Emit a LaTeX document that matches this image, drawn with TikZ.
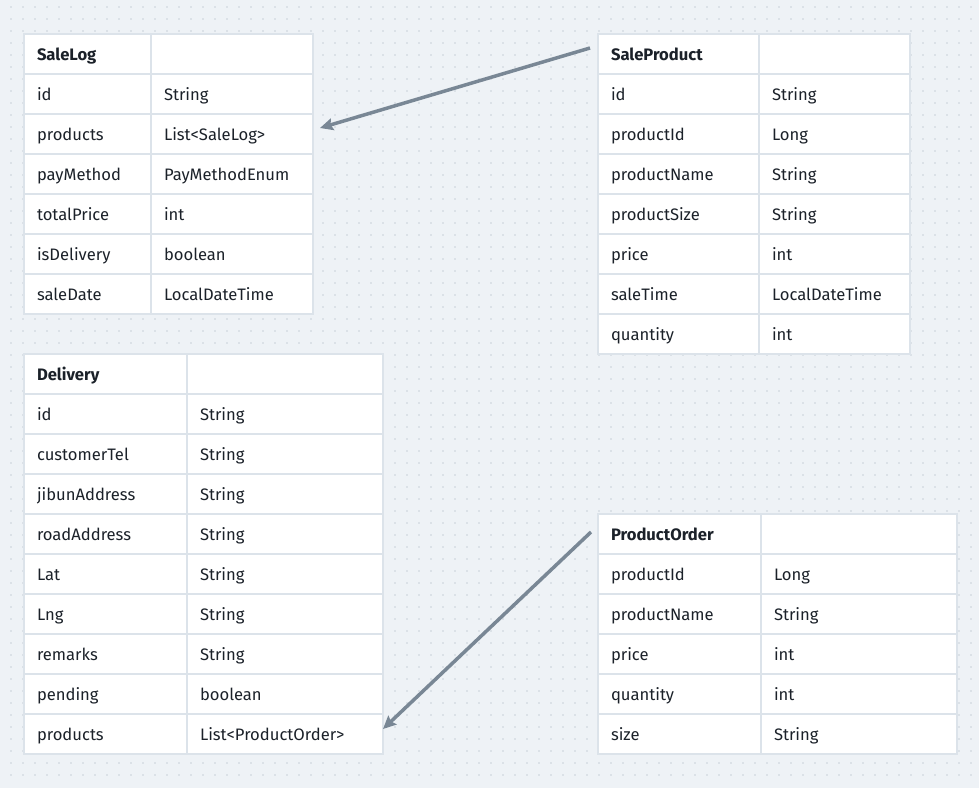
\documentclass[tikz,border=0pt]{standalone}
\usepackage{fontspec}
\setmainfont{Fira Sans}
\usetikzlibrary{arrows.meta}
\definecolor{bgcol}{HTML}{EEF2F6}
\definecolor{dotcol}{HTML}{C8D0D9}
\definecolor{cellline}{HTML}{DCE3EA}
\definecolor{arrowcol}{HTML}{798795}
\definecolor{textcol}{HTML}{1B2129}
\tikzset{
  cell/.style={draw=cellline, line width=2pt, fill=white, anchor=north west,
    minimum height=40pt, inner xsep=13pt, inner ysep=0pt, align=left,
    text height=14pt, text depth=1pt,
    font=\fontsize{16.6}{18}\selectfont, text=textcol},
  link/.style={draw=arrowcol, line width=3.5pt, -{Stealth[length=13pt,width=12pt,inset=2pt]}}
}
\begin{document}
\begin{tikzpicture}[x=1pt,y=-1pt]

%background
\fill[bgcol] (0,0) rectangle (979,788);
\useasboundingbox (0,0) rectangle (979,788);
\foreach \x in {11,23,...,971}
  \foreach \y in {7,19,...,780}
    \fill[dotcol] (\x,\y) circle (0.9);

%SaleLog
\node[cell, text width=101pt] (salelog-0) at (23,33) {\textbf{SaleLog}};
\node[cell, text width=136pt] (salelog-0t) at (150,33) {};
\foreach \n/\t [count=\i] in {id/String, products/List<SaleLog>, payMethod/PayMethodEnum,
    totalPrice/int, isDelivery/boolean, saleDate/LocalDateTime}{
  \node[cell, text width=101pt] (salelog-\i) at (23,33+40*\i) {\n};
  \node[cell, text width=136pt] (salelog-\i t) at (150,33+40*\i) {\t};
}

%SaleProduct
\node[cell, text width=135pt] (saleproduct-0) at (597,33) {\textbf{SaleProduct}};
\node[cell, text width=125pt] (saleproduct-0t) at (758,33) {};
\foreach \n/\t [count=\i] in {id/String, productId/Long, productName/String, productSize/String,
    price/int, saleTime/LocalDateTime, quantity/int}{
  \node[cell, text width=135pt] (saleproduct-\i) at (597,33+40*\i) {\n};
  \node[cell, text width=125pt] (saleproduct-\i t) at (758,33+40*\i) {\t};
}

%Delivery
\node[cell, text width=137pt] (delivery-0) at (23,353) {\textbf{Delivery}};
\node[cell, text width=170pt] (delivery-0t) at (186,353) {};
\foreach \n/\t [count=\i] in {id/String, customerTel/String, jibunAddress/String, roadAddress/String,
    Lat/String, Lng/String, remarks/String, pending/boolean, products/List<ProductOrder>}{
  \node[cell, text width=137pt] (delivery-\i) at (23,353+40*\i) {\n};
  \node[cell, text width=170pt] (delivery-\i t) at (186,353+40*\i) {\t};
}

%ProductOrder
\node[cell, text width=137pt] (productorder-0) at (597,513) {\textbf{ProductOrder}};
\node[cell, text width=170pt] (productorder-0t) at (760,513) {};
\foreach \n/\t [count=\i] in {productId/Long, productName/String, price/int, quantity/int, size/String}{
  \node[cell, text width=137pt] (productorder-\i) at (597,513+40*\i) {\n};
  \node[cell, text width=170pt] (productorder-\i t) at (760,513+40*\i) {\t};
}

%links
\draw[link] ([xshift=-7pt,yshift=6pt]saleproduct-0.west) -- ([xshift=6pt,yshift=6pt]salelog-2t.east);
\draw[link] ([xshift=-6pt,yshift=2pt]productorder-0.west) -- ([xshift=-1pt,yshift=5pt]delivery-9t.east);

\end{tikzpicture}
\end{document}
